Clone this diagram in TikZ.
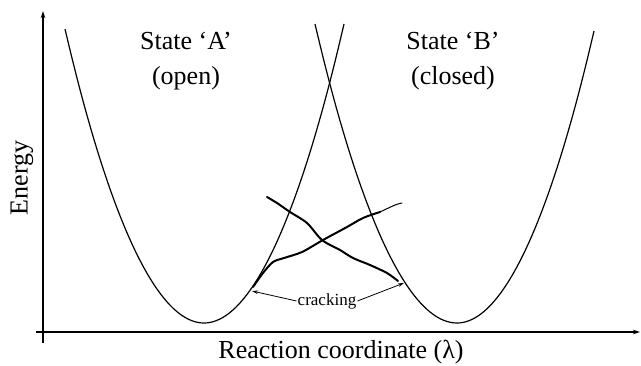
\documentclass[tikz,border=0pt]{standalone}
\usepackage{fontspec}
\setmainfont{Liberation Serif}
\usetikzlibrary{arrows.meta, positioning}

\begin{document}
\begin{tikzpicture}[x=1pt, y=-1pt,
    axis/.style={line width=1.3pt, -{Stealth[length=7pt, width=4.5pt]}},
    well/.style={line width=1.2pt},
    crack/.style={line width=2pt, line cap=round, line join=round},
    label/.style={font=\fontsize{26}{35}\selectfont, align=center},
    pointer/.style={line width=0.8pt, -{Stealth[length=6pt, width=3.5pt]}}]
  \useasboundingbox (0,0) rectangle (641,365);

  % Axes
  \draw[axis] (43,343) -- (43,11);
  \draw[axis] (36,332) -- (640,332);

  % Energy wells
  \draw[well] (65,29) parabola bend (204,323) (344,24);
  \draw[well] (315,24) parabola bend (457,323) (594,31);

  % Crack paths
  \draw[crack] plot[smooth] coordinates {(253,287) (263,273) (273,262) (284,258)
    (302,252) (323,240) (347,227) (363,218) (380,212)};
  \draw[crack, line width=1pt] plot[smooth] coordinates {(380,212) (395,205) (402,203)};
  \draw[crack] plot[smooth] coordinates {(267,197) (277,203) (290,212) (307,223)
    (322,240) (340,250) (353,258) (370,265) (387,273) (398,281)};

  % Points on the wells
  \coordinate (crackA) at (252,291);
  \coordinate (crackB) at (404,283);

  % Labels
  \node[label] (stateA) at (186,61) {State `A'\\(open)};
  \node[label] (stateB) at (453,61) {State `B'\\(closed)};
  \node[label, rotate=90] (energy) at (22,178) {Energy};
  \node[label] (xlabel) at (341,352) {Reaction coordinate (λ)};
  \node[font=\fontsize{17}{20}\selectfont, inner sep=1pt] (crack) at (327,301) {cracking};

  \draw[pointer] (crack.west) -- (crackA);
  \draw[pointer] (crack.east) -- (crackB);
\end{tikzpicture}
\end{document}
